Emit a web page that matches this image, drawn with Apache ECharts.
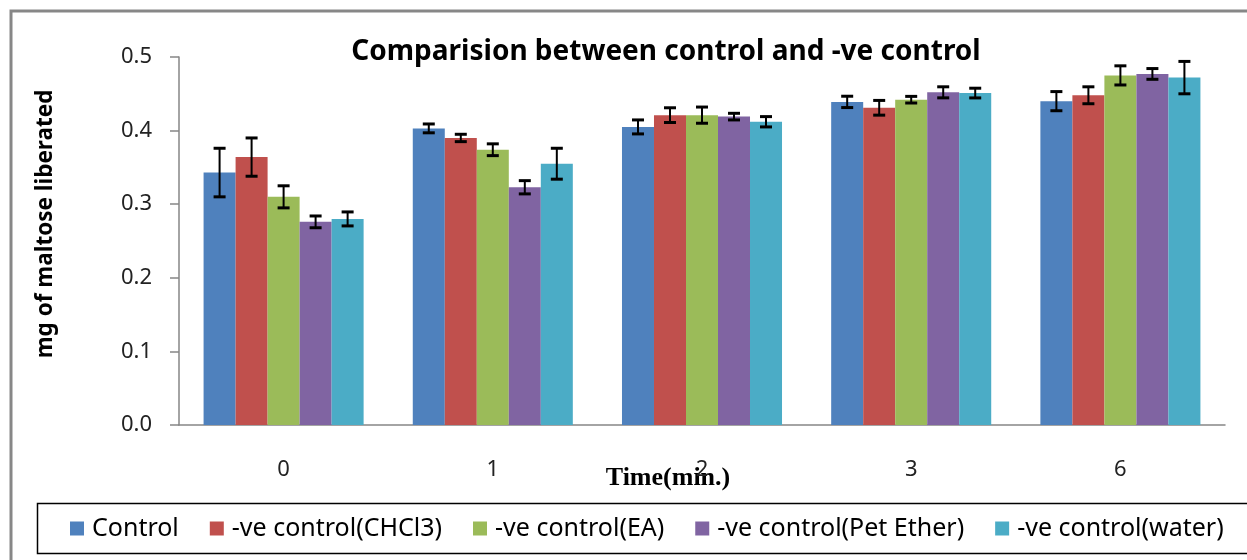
<!DOCTYPE html>
<html>
<head>
<meta charset="utf-8">
<script src="https://cdn.jsdelivr.net/npm/echarts@6/dist/echarts.min.js"></script>
<style>
  html, body { margin: 0; padding: 0; background: #fff; }
  #chart { width: 1247px; height: 560px; }
</style>
</head>
<body>
<div id="chart"></div>
<script>
// time points (min.)
const categories = ['0', '1', '2', '3', '6']
const seriesNames = ['Control', '-ve control(CHCl3)', '-ve control(EA)', '-ve control(Pet Ether)', '-ve control(water)']
const colors = ['#4F81BD', '#C0504D', '#9BBB59', '#8064A2', '#4BACC6']

// mg of maltose liberated
const controlVals = [0.343, 0.403, 0.405, 0.439, 0.440]
const chcl3Vals = [0.364, 0.390, 0.421, 0.431, 0.448]
const eaVals = [0.310, 0.374, 0.421, 0.442, 0.475]
const petEtherVals = [0.276, 0.323, 0.419, 0.452, 0.477]
const waterVals = [0.280, 0.355, 0.412, 0.451, 0.472]

// +/- error
const controlErr = [0.033, 0.006, 0.0095, 0.0077, 0.013]
const chcl3Err = [0.026, 0.005, 0.010, 0.010, 0.0115]
const eaErr = [0.015, 0.008, 0.011, 0.0045, 0.013]
const petEtherErr = [0.008, 0.009, 0.0045, 0.0075, 0.0073]
const waterErr = [0.0095, 0.021, 0.007, 0.0066, 0.022]

const yTicks = [0, 0.1, 0.2, 0.3, 0.4, 0.5]

const allVals = [controlVals, chcl3Vals, eaVals, petEtherVals, waterVals]
const allErr = [controlErr, chcl3Err, eaErr, petEtherErr, waterErr]

const catGap = 0.235
const chart = echarts.init(document.getElementById('chart'))

const series = []
allVals.forEach((vals, i) => {
  series.push({
    name: seriesNames[i],
    type: 'bar',
    data: vals,
    barGap: '0%',
    barCategoryGap: catGap * 100 + '%',
    itemStyle: { color: colors[i] }
  })
})
// error bars, one custom series per bar series
allVals.forEach((vals, i) => {
  series.push({
    name: seriesNames[i],
    type: 'custom',
    z: 10,
    data: vals.map((v, k) => [k, v - allErr[i][k], v + allErr[i][k]]),
    renderItem: function (params, api) {
      const k = api.value(0)
      const lo = api.coord([k, api.value(1)])
      const hi = api.coord([k, api.value(2)])
      const band = api.size([1, 0])[0]
      const barW = band * (1 - catGap) / 5
      const x = lo[0] + (i - 2) * barW
      const half = 6
      const st = { stroke: '#000', lineWidth: 2 }
      const cap = { stroke: '#000', lineWidth: 3 }
      return {
        type: 'group',
        children: [
          { type: 'line', shape: { x1: x, y1: lo[1], x2: x, y2: hi[1] }, style: st },
          { type: 'line', shape: { x1: x - half, y1: lo[1], x2: x + half, y2: lo[1] }, style: cap },
          { type: 'line', shape: { x1: x - half, y1: hi[1], x2: x + half, y2: hi[1] }, style: cap }
        ]
      }
    }
  })
})

const option = {
  animation: false,
  title: {
    text: 'Comparision between control and -ve control',
    left: 666,
    textAlign: 'center',
    top: 38,
    padding: 0,
    textStyle: { fontFamily: 'Noto Sans', fontWeight: 'bold', fontSize: 28, color: '#000' }
  },
  legend: {
    data: seriesNames,
    left: 70,
    top: 516,
    icon: 'rect',
    itemWidth: 14,
    itemHeight: 14,
    itemGap: 31,
    padding: 0,
    textStyle: { fontFamily: 'Noto Sans', fontSize: 25, color: '#000', padding: [0, 0, 0, 3] }
  },
  grid: { left: 179, right: 22, top: 57, bottom: 135, containLabel: false },
  xAxis: {
    type: 'category',
    data: categories,
    name: 'Time(min.)',
    nameLocation: 'middle',
    nameGap: 40,
    nameMoveOverlap: false,
    nameTextStyle: { fontFamily: 'Liberation Serif', fontWeight: 'bold', fontSize: 26, color: '#000', padding: [0, 68, 0, 0] },
    axisLine: { lineStyle: { color: '#868686', width: 1.5 } },
    axisTick: { length: 10, lineStyle: { color: '#868686', width: 1.5 } },
    axisLabel: { fontFamily: 'Noto Sans', fontSize: 22, color: '#222', margin: 34 }
  },
  yAxis: {
    type: 'value',
    min: 0,
    max: 0.5,
    interval: 0.1,
    name: 'mg of maltose liberated',
    nameLocation: 'middle',
    nameRotate: 90,
    nameGap: 122,
    nameMoveOverlap: false,
    nameTextStyle: { fontFamily: 'Noto Sans', fontWeight: 'bold', fontSize: 22.5, color: '#000', padding: [0, 0, 0, 34] },
    axisLine: { show: true, lineStyle: { color: '#868686', width: 1.5 } },
    axisTick: { show: true, length: 9, lineStyle: { color: '#868686', width: 1.5 } },
    splitLine: { show: false },
    axisLabel: {
      fontFamily: 'Noto Sans', fontSize: 22, color: '#222', margin: 27,
      formatter: v => yTicks.includes(+v.toFixed(1)) ? v.toFixed(1) : ''
    }
  },
  graphic: [
    { type: 'rect', shape: { x: 11, y: 11, width: 1400, height: 700 }, style: { fill: 'none', stroke: '#878787', lineWidth: 3 }, silent: true },
    { type: 'rect', shape: { x: 37.5, y: 503.5, width: 1400, height: 50 }, style: { fill: 'none', stroke: '#000', lineWidth: 1.5 }, silent: true }
  ],
  series: series
}

chart.setOption(option)
</script>
</body>
</html>
